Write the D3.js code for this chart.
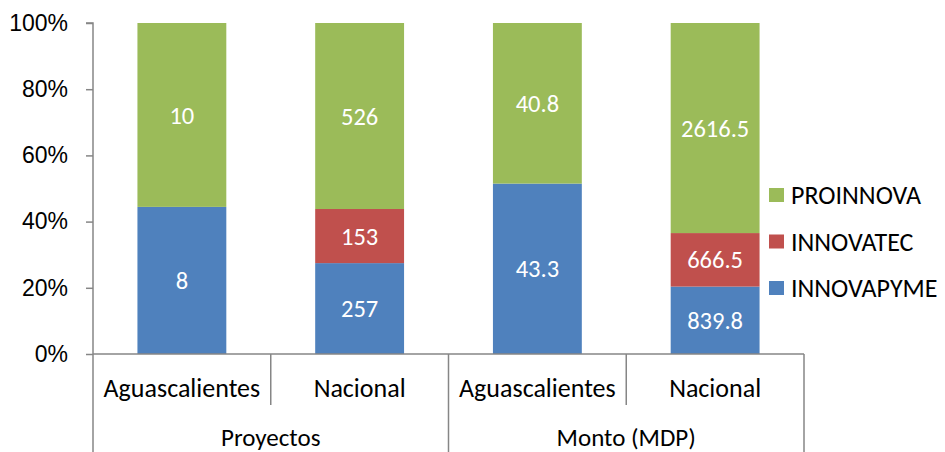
<!DOCTYPE html>
<html><head><meta charset="utf-8">
<script src="https://cdn.jsdelivr.net/npm/d3@7"></script>
<style>body{margin:0;background:#fff;}svg{display:block;font-family:Calibri,Carlito,"Open Sans",sans-serif;}</style>
</head><body>
<svg id="c" width="945" height="452"></svg>
<script>
const categories = ["Aguascalientes","Nacional","Aguascalientes","Nacional"];
const groups = ["Proyectos","Monto (MDP)"];
const series = ["INNOVAPYME","INNOVATEC","PROINNOVA"];
const innovapyme = [8, 257, 43.3, 839.8];
const innovatec = [0, 153, 0, 666.5];
const proinnova = [10, 526, 40.8, 2616.5];
const yTicks = [0,0.2,0.4,0.6,0.8,1];
const colors = {INNOVAPYME:"#4F81BD", INNOVATEC:"#C0504D", PROINNOVA:"#9BBB59"};

const svg = d3.select("#c");
const m = {l:93, r:804, t:23, b:354};
const idx = d3.range(categories.length);
const x = d3.scaleBand().domain(idx).range([m.l, m.r]).paddingInner(0.5).paddingOuter(0.25);
const y = d3.scaleLinear().domain([0,1]).range([m.b, m.t]);
const vals = {INNOVAPYME:innovapyme, INNOVATEC:innovatec, PROINNOVA:proinnova};
const rows = idx.map(i => { const o = {i}; series.forEach(s => o[s] = vals[s][i]); return o; });
const stack = d3.stack().keys(series).offset(d3.stackOffsetExpand)(rows);

stack.forEach(layer => {
  const g = svg.append("g");
  layer.forEach((d, j) => {
    const v = vals[layer.key][j];
    if (!v) return;
    g.append("rect").attr("x", x(j)).attr("width", x.bandwidth())
      .attr("y", y(d[1])).attr("height", y(d[0]) - y(d[1])).attr("fill", colors[layer.key]);
    g.append("text").attr("x", x(j) + x.bandwidth()/2).attr("y", (y(d[0]) + y(d[1]))/2)
      .attr("dy", "0.35em").attr("text-anchor", "middle").attr("fill", "#fff")
      .attr("font-size", 24.5).text(v);
  });
});

// y axis
const axisColor = "#868686";
const ya = svg.append("g").attr("transform", `translate(${m.l},0)`)
  .call(d3.axisLeft(y).tickValues(yTicks).tickFormat(d3.format(".0%")).tickSize(7).tickPadding(18));
ya.select(".domain").attr("stroke", axisColor).attr("stroke-width", 1.5).attr("d", `M-7,${m.t}H0V${m.b}`);
ya.selectAll(".tick line").attr("stroke", axisColor).attr("stroke-width", 1.5);
ya.selectAll(".tick text").attr("font-size", 23).attr("fill", "#000").attr("font-family", "inherit");

// x axis (multi-level)
const xa = svg.append("g");
const step = (m.r - m.l) / categories.length;
xa.append("line").attr("x1", m.l).attr("x2", m.r).attr("y1", m.b).attr("y2", m.b).attr("stroke", axisColor).attr("stroke-width", 1.5);
idx.forEach(i => {
  const xl = m.l + i*step;
  const outer = i % 2 === 0;
  xa.append("line").attr("x1", xl).attr("x2", xl).attr("y1", m.b).attr("y2", outer ? 452 : 405).attr("stroke", axisColor).attr("stroke-width", 1.5);
  xa.append("text").attr("x", xl + step/2).attr("y", 388).attr("dy", "0.35em").attr("text-anchor", "middle").attr("font-size", 26).text(categories[i]);
});
xa.append("line").attr("x1", m.r).attr("x2", m.r).attr("y1", m.b).attr("y2", 452).attr("stroke", axisColor).attr("stroke-width", 1.5);
groups.forEach((gname, k) => {
  xa.append("text").attr("x", m.l + step*(2*k+1)).attr("y", 437).attr("dy", "0.35em").attr("text-anchor", "middle").attr("font-size", 25).text(gname);
});

// legend
const leg = ["PROINNOVA","INNOVATEC","INNOVAPYME"];
leg.forEach((s, k) => {
  const cy = 195 + k*46.5;
  svg.append("rect").attr("x", 769).attr("y", cy - 7).attr("width", 15).attr("height", 14).attr("fill", colors[s]);
  svg.append("text").attr("x", 791).attr("y", cy).attr("dy", "0.35em").attr("font-size", 26).text(s);
});
</script>
</body></html>
